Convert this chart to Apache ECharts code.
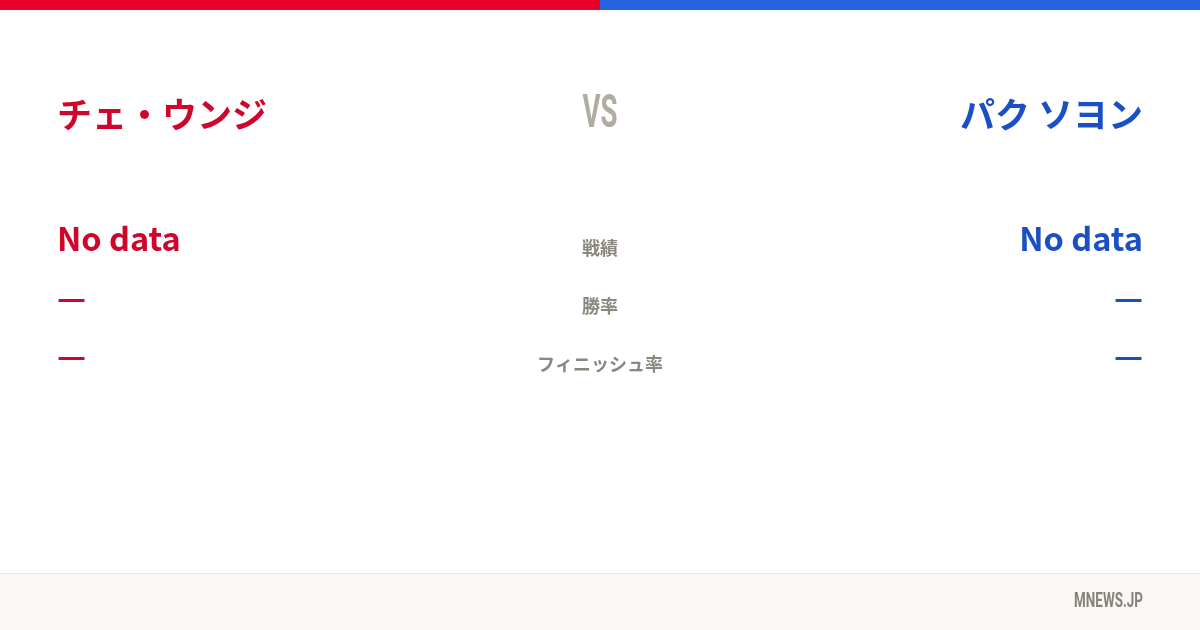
<!DOCTYPE html>
<html>
<head>
    <meta charset="utf-8">
    <title>チェ・ウンジ vs パク ソヨン</title>
    <script src="https://cdn.jsdelivr.net/npm/echarts@6.0.0/dist/echarts.min.js"></script>
    <style>
        * { margin: 0; padding: 0; }
        html, body { background: #fff; }
        #main { width: 1200px; height: 630px; }
    </style>
</head>
<body>
<div id="main"></div>
<script>
    // fighters and stat rows
    var fighters = ['チェ・ウンジ', 'パク ソヨン'];
    var statLabels = ['戦績', '勝率', 'フィニッシュ率'];
    var leftValues = ['No data', '—', '—'];
    var rightValues = ['No data', '—', '—'];
    var vsText = 'VS';
    var siteName = 'MNEWS.JP';

    var RED = '#d0052b';
    var BLUE = '#1a50c4';
    var JP = '"Noto Sans CJK JP", "Noto Sans", sans-serif';

    var chart = echarts.init(document.getElementById('main'), null, { renderer: 'canvas' });

    var rowY = [239, 298, 356];
    var labelY = [248, 306, 364];
    var elements = [
        // top colour bar
        { type: 'rect', shape: { x: 0, y: 0, width: 600, height: 10 }, style: { fill: '#e8002b' } },
        { type: 'rect', shape: { x: 600, y: 0, width: 600, height: 10 }, style: { fill: '#2563e0' } },
        // footer
        { type: 'rect', shape: { x: 0, y: 573, width: 1200, height: 57 }, style: { fill: '#f9f8f4' } },
        { type: 'line', shape: { x1: 0, y1: 573.5, x2: 1200, y2: 573.5 }, style: { stroke: '#e8e6e0', lineWidth: 1 } },
        {
            type: 'text', x: 1143, y: 602, scaleX: 0.64,
            style: { text: siteName, fontFamily: 'Roboto', fontWeight: 'bold', fontSize: 21,
                     fill: '#85837b', textAlign: 'right', textVerticalAlign: 'middle' }
        },
        // names
        {
            type: 'text', x: 57, y: 115,
            style: { text: fighters[0], fontFamily: JP, fontWeight: 'bold', fontSize: 35,
                     fill: RED, textAlign: 'left', textVerticalAlign: 'middle' }
        },
        {
            type: 'text', x: 1143, y: 115,
            style: { text: fighters[1], fontFamily: JP, fontWeight: 'bold', fontSize: 35,
                     fill: BLUE, textAlign: 'right', textVerticalAlign: 'middle' }
        },
        {
            type: 'text', x: 600, y: 115, scaleX: 0.6,
            style: { text: vsText, fontFamily: 'Roboto', fontWeight: 'bold', fontSize: 46,
                     fill: '#b0aca2', textAlign: 'center', textVerticalAlign: 'middle' }
        }
    ];

    statLabels.forEach(function (label, i) {
        var big = i === 0;
        elements.push({
            type: 'text', x: 600, y: labelY[i],
            style: { text: label, fontFamily: JP, fontWeight: 'bold', fontSize: 18,
                     fill: '#8a877f', textAlign: 'center', textVerticalAlign: 'middle' }
        });
        elements.push({
            type: 'text', x: 57, y: rowY[i],
            style: { text: leftValues[i], fontFamily: JP, fontWeight: 'bold', fontSize: big ? 32.5 : 32,
                     fill: RED, textAlign: 'left', textVerticalAlign: 'middle' }
        });
        elements.push({
            type: 'text', x: 1143, y: rowY[i],
            style: { text: rightValues[i], fontFamily: JP, fontWeight: 'bold', fontSize: big ? 32.5 : 32,
                     fill: BLUE, textAlign: 'right', textVerticalAlign: 'middle' }
        });
    });

    chart.setOption({
        animation: false,
        graphic: { elements: elements }
    });
</script>
</body>
</html>
